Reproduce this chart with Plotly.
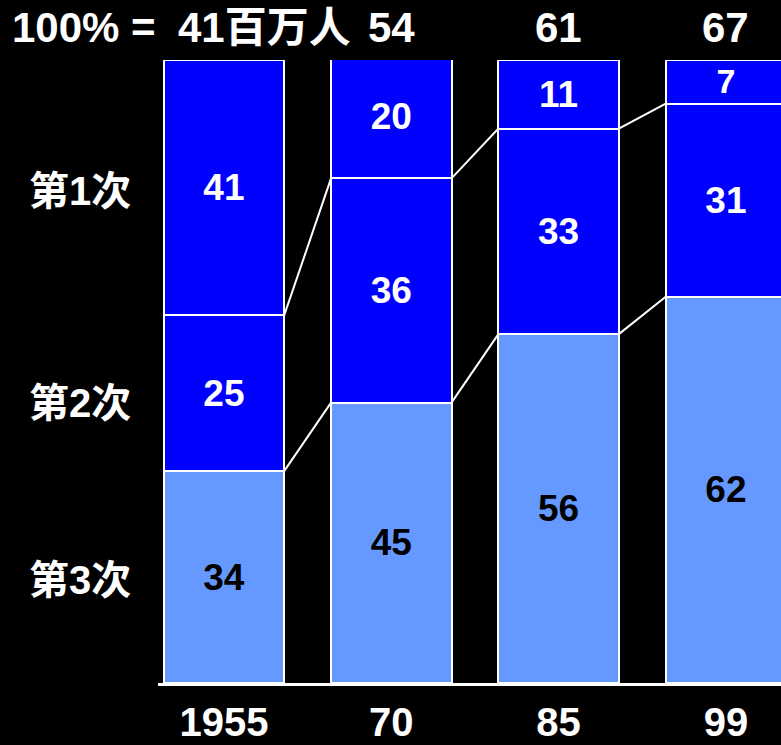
import plotly.graph_objects as go

# Employment by sector, share of total (%)
years = ["1955", "70", "85", "99"]
totals = ["41百万人", "54", "61", "67"]
tertiary = [34, 45, 56, 62]
secondary = [25, 36, 33, 31]
primary = [41, 20, 11, 7]
sector_labels = ["第1次", "第2次", "第3次"]

LIGHT = "#6699FF"
BLUE = "#0000FF"
FONT = "Liberation Sans, Arial, Noto Sans CJK SC, sans-serif"
BAR_W = 0.72

# plot area in pixels (for placing margin text)
PL, PR = 158, 781


def px_to_paper(px):
    return (px - PL) / (PR - PL)


def bold(size, color="white"):
    return dict(color=color, size=size, family=FONT, weight="bold")


xs = list(range(len(years)))
fig = go.Figure()

for vals, color, tcolor in [(tertiary, LIGHT, "black"),
                            (secondary, BLUE, "white"),
                            (primary, BLUE, "white")]:
    fig.add_trace(go.Bar(
        x=xs, y=vals, width=BAR_W,
        marker=dict(color=color, line=dict(color="white", width=2)),
        text=[str(v) for v in vals], textposition="inside",
        insidetextanchor="middle", textangle=0,
        textfont=bold(37, tcolor),
        hoverinfo="skip",
    ))

# connector lines between neighbouring bars at the segment boundaries
b1 = tertiary
b2 = [t + s for t, s in zip(tertiary, secondary)]
for bound in (b1, b2):
    for i in range(len(years) - 1):
        fig.add_trace(go.Scatter(
            x=[i + BAR_W / 2, i + 1 - BAR_W / 2], y=[bound[i], bound[i + 1]],
            mode="lines", line=dict(color="white", width=2),
            hoverinfo="skip", showlegend=False,
        ))

annotations = [
    dict(x=px_to_paper(158), xref="paper", xanchor="right", y=1.0, yref="paper",
         yanchor="middle", yshift=33, text="100% =", showarrow=False,
         font=bold(42)),
    dict(x=px_to_paper(176), xref="paper", xanchor="left", y=1.0, yref="paper",
         yanchor="middle", yshift=33, text=totals[0], showarrow=False,
         font=bold(42)),
]
for i in range(1, len(years)):
    annotations.append(dict(x=i, xref="x", y=1.0, yref="paper", yanchor="middle",
                            yshift=33, text=totals[i], showarrow=False,
                            font=bold(42)))

for lab, yy in zip(sector_labels, [79, 45, 16.5]):
    annotations.append(dict(x=px_to_paper(80), xref="paper", y=yy, yref="y",
                            text=lab, showarrow=False, xanchor="center",
                            font=bold(40)))

fig.update_layout(
    width=781, height=745,
    margin=dict(l=PL, r=781 - PR, t=60, b=62),
    paper_bgcolor="black", plot_bgcolor="black",
    barmode="stack", showlegend=False,
    xaxis=dict(range=[-0.394, 3.329], tickvals=xs, ticktext=years,
               showgrid=False, zeroline=False, showline=True,
               linecolor="white", linewidth=3, ticks="",
               ticklabelstandoff=2, automargin=False,
               tickfont=bold(40)),
    yaxis=dict(range=[0, 100], visible=False, showgrid=False, zeroline=False,
               automargin=False),
    annotations=annotations,
)

fig.write_html("out.html")
